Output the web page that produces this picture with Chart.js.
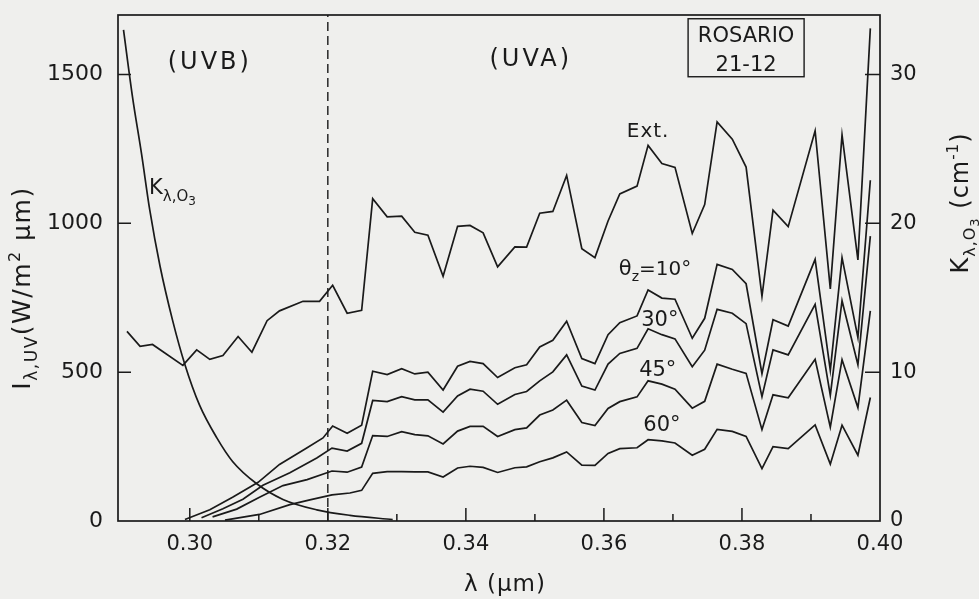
<!DOCTYPE html>
<html>
<head>
<meta charset="utf-8">
<script src="https://cdn.jsdelivr.net/npm/chart.js@4.4.1/dist/chart.umd.min.js"></script>
<style>
  html, body { margin: 0; padding: 0; background: #efefed; }
  #wrap { width: 979px; height: 599px; }
</style>
</head>
<body>
<div id="wrap"><canvas id="c" width="979" height="599"></canvas></div>
<script>
// ---------- DATA ----------
// wavelength in µm, irradiance in W/m² µm (left axis), K in cm^-1 (right axis)
const uvbLimit = 0.32;

const lambdaExtUVB = [0.2909,0.2928,0.2946,0.2990,0.3010,0.3029,0.3048,0.3070,0.3090,0.3112,0.3130,0.3164,0.3188,0.3207,0.3228,0.3249];
const extUVB       = [637,587,593,523,575,543,556,620,567,673,706,738,738,792,698,708];

const lambdaUVA = [0.3265,0.3286,0.3307,0.3326,0.3345,0.3367,0.3388,0.3406,0.3425,0.3446,0.3471,0.3488,0.3507,0.3526,0.3546,0.3568,0.3587,0.3606,0.3623,0.3648,0.3664,0.3684,0.3703,0.3728,0.3746,0.3764,0.3786,0.3806,0.3829,0.3845,0.3867,0.3906,0.3928,0.3945,0.3968,0.3986];
const extUVA = [1083,1022,1024,970,960,822,990,993,968,854,921,920,1034,1040,1161,915,885,1008,1099,1125,1262,1201,1188,966,1063,1341,1283,1189,755,1044,989,1311,780,1297,877,1655];

const lambdaT10UVB = [0.2993,0.3029,0.3062,0.3099,0.3130,0.3170,0.3193,0.3207,0.3228,0.3249];
const t10UVB       = [5,38,80,130,190,246,279,319,295,322];
const t10UVA = [503,492,512,494,500,440,520,536,529,482,515,525,585,607,671,546,529,626,666,689,776,749,745,614,681,862,845,797,495,676,655,879,506,885,616,1145];

const lambdaT30UVB = [0.3017,0.3048,0.3077,0.3106,0.3145,0.3184,0.3206,0.3228,0.3249];
const t30UVB       = [11,41,73,120,162,212,245,235,261];
const t30UVA = [405,401,418,407,407,366,420,443,436,392,425,435,471,501,558,453,440,527,563,580,646,626,612,518,574,711,698,663,418,575,558,728,422,740,525,957];

const lambdaT45UVB = [0.3033,0.3068,0.3101,0.3135,0.3170,0.3206,0.3228,0.3249];
const t45UVB       = [14,40,80,119,139,168,164,181];
const t45UVA = [287,284,300,290,286,259,302,318,318,284,307,313,356,373,406,331,321,378,401,417,471,460,443,379,402,527,510,496,307,424,414,543,315,542,381,706];

const lambdaT60UVB = [0.3051,0.3101,0.3145,0.3174,0.3206,0.3232,0.3249];
const t60UVB       = [3,22,55,71,88,94,103];
const t60UVA = [160,166,166,165,165,148,178,184,180,163,179,182,199,212,232,188,187,227,243,246,273,269,262,221,241,308,301,284,176,250,243,323,191,322,221,415];

const lambdaK = [0.2904,0.2917,0.2930,0.2942,0.2957,0.2975,0.2993,0.3014,0.3039,0.3062,0.3097,0.3135,0.3184,0.3232,0.3294];
const kO3     = [33.0,28.5,24.7,20.9,17.1,13.5,10.5,7.8,5.6,4.0,2.5,1.45,0.75,0.38,0.1];

const xTicksLabelled = [0.30,0.32,0.34,0.36,0.38,0.40];
const leftTicks = [0,500,1000,1500];
const rightTicks = [0,10,20,30];

// ---------- helpers ----------
const pts = (xs, ys) => xs.map((x, i) => ({ x: x, y: ys[i] }));
const INK = '#1a1a1a';
const FAM = '"DejaVu Sans", "Open Sans", sans-serif';

function lineDS(data, axis, extra) {
  return Object.assign({
    data: data, yAxisID: axis, showLine: true, pointRadius: 0,
    borderColor: INK, borderWidth: 1.7, tension: 0, fill: false
  }, extra || {});
}

const datasets = [
  lineDS(pts(lambdaExtUVB.concat(lambdaUVA), extUVB.concat(extUVA)), 'y'),
  lineDS(pts(lambdaT10UVB.concat(lambdaUVA), t10UVB.concat(t10UVA)), 'y'),
  lineDS(pts(lambdaT30UVB.concat(lambdaUVA), t30UVB.concat(t30UVA)), 'y'),
  lineDS(pts(lambdaT45UVB.concat(lambdaUVA), t45UVB.concat(t45UVA)), 'y'),
  lineDS(pts(lambdaT60UVB.concat(lambdaUVA), t60UVB.concat(t60UVA)), 'y'),
  lineDS(pts(lambdaK, kO3), 'y1', { cubicInterpolationMode: 'monotone', tension: 0.4 }),
  lineDS([{ x: uvbLimit, y: 0 }, { x: uvbLimit, y: 1700 }], 'y', { borderDash: [9, 5], borderWidth: 1.4 })
];

// annotations in data coordinates (left-axis units)
const annotations = [
  { parts: [{ t: '(UVB)', s: 24 }], x: 0.3029, y: 1548, ls: 3 },
  { parts: [{ t: '(UVA)', s: 24 }], x: 0.3494, y: 1557, ls: 3 },
  { parts: [{ t: 'Ext.', s: 20 }], x: 0.3664, y: 1314, ls: 1 },
  { parts: [{ t: 'θ', s: 21 }, { t: 'z', s: 14, dy: 6 }, { t: '=10°', s: 20 }], x: 0.3674, y: 851, ls: 0 },
  { parts: [{ t: '30°', s: 21 }], x: 0.3681, y: 680, ls: 0 },
  { parts: [{ t: '45°', s: 21 }], x: 0.3678, y: 512, ls: 0 },
  { parts: [{ t: '60°', s: 21 }], x: 0.3684, y: 327, ls: 0 },
  { parts: [{ t: 'K', s: 21 }, { t: 'λ,O', s: 15, dy: 7 }, { t: '3', s: 12, dy: 11 }], x: 0.2975, y: 1123, ls: 0 }
];
const boxLabel = { lines: ['ROSARIO', '21-12'], x: 0.3806, y: 1590 };

function richWidth(ctx, parts, ls) {
  let w = 0;
  ctx.letterSpacing = (ls || 0) + 'px';
  for (const p of parts) { ctx.font = p.s + 'px ' + FAM; w += ctx.measureText(p.t).width; }
  return w;
}
function drawRich(ctx, parts, x, yBase, align, ls) {
  const w = richWidth(ctx, parts, ls);
  let cx = align === 'center' ? x - w / 2 : (align === 'right' ? x - w : x);
  ctx.textAlign = 'left';
  ctx.textBaseline = 'alphabetic';
  ctx.letterSpacing = (ls || 0) + 'px';
  for (const p of parts) {
    ctx.font = p.s + 'px ' + FAM;
    ctx.fillText(p.t, cx, yBase + (p.dy || 0));
    cx += ctx.measureText(p.t).width;
  }
  ctx.letterSpacing = '0px';
}

const decor = {
  id: 'decor',
  beforeDraw(chart) {
    const ctx = chart.ctx;
    ctx.save();
    ctx.fillStyle = '#efefed';
    ctx.fillRect(0, 0, chart.width, chart.height);
    ctx.restore();
  },
  afterDraw(chart) {
    const ctx = chart.ctx;
    const a = chart.chartArea;
    const sx = chart.scales.x, sy = chart.scales.y, sy1 = chart.scales.y1;
    ctx.save();
    ctx.strokeStyle = INK;
    ctx.fillStyle = INK;
    ctx.lineWidth = 1.7;
    // frame
    ctx.strokeRect(a.left, a.top, a.right - a.left, a.bottom - a.top);
    // inward ticks
    ctx.lineWidth = 1.5;
    ctx.beginPath();
    sx.ticks.forEach(t => {
      const px = sx.getPixelForValue(t.value);
      if (px < a.left + 4 || px > a.right - 2) return;
      const major = Math.round(t.value * 100) % 2 === 0;
      ctx.moveTo(px, a.bottom); ctx.lineTo(px, a.bottom - (major ? 13 : 7));
    });
    leftTicks.forEach(v => {
      const py = sy.getPixelForValue(v);
      if (py > a.bottom - 2) return;
      ctx.moveTo(a.left, py); ctx.lineTo(a.left + 13, py);
    });
    rightTicks.forEach(v => {
      const py = sy1.getPixelForValue(v);
      if (py > a.bottom - 2) return;
      ctx.moveTo(a.right, py); ctx.lineTo(a.right - 15, py);
    });
    ctx.stroke();

    // annotations
    annotations.forEach(an => {
      const px = sx.getPixelForValue(an.x), py = sy.getPixelForValue(an.y);
      const base = py + 0.36 * an.parts[0].s;
      drawRich(ctx, an.parts, px, base, 'center', an.ls);
    });
    // ROSARIO box
    const bx = sx.getPixelForValue(boxLabel.x), by = sy.getPixelForValue(boxLabel.y);
    ctx.lineWidth = 1.4;
    ctx.strokeRect(bx - 58, by - 29, 116, 58);
    drawRich(ctx, [{ t: boxLabel.lines[0], s: 21 }], bx, by - 6, 'center', 0);
    drawRich(ctx, [{ t: boxLabel.lines[1], s: 21 }], bx, by + 23, 'center', 0);

    // x title
    drawRich(ctx, [{ t: 'λ (µm)', s: 23 }], (a.left + a.right) / 2 + 6, 591, 'center', 1);

    // left title (rotated)
    ctx.save();
    ctx.translate(30, 288);
    ctx.rotate(-Math.PI / 2);
    drawRich(ctx, [
      { t: 'I', s: 25 }, { t: 'λ,UV', s: 17, dy: 7 }, { t: '(W/m', s: 25 },
      { t: '2', s: 16, dy: -10 }, { t: ' µm)', s: 25 }
    ], 0, 0, 'center', 1.5);
    ctx.restore();

    // right title (rotated)
    ctx.save();
    ctx.translate(968, 203);
    ctx.rotate(-Math.PI / 2);
    drawRich(ctx, [
      { t: 'K', s: 24 }, { t: 'λ,O', s: 16, dy: 7 }, { t: '3', s: 13, dy: 11 },
      { t: ' (cm', s: 24 }, { t: '-1', s: 15, dy: -10 }, { t: ')', s: 24 }
    ], 0, 0, 'center', 1);
    ctx.restore();

    ctx.restore();
  }
};

const noPad = s => { s.paddingTop = 0; s.paddingBottom = 0; };

new Chart(document.getElementById('c'), {
  type: 'scatter',
  data: { datasets: datasets },
  plugins: [decor],
  options: {
    responsive: false,
    animation: false,
    devicePixelRatio: 1,
    layout: { padding: { top: 15, left: 0, right: 0, bottom: 0 } },
    plugins: { legend: { display: false }, tooltip: { enabled: false } },
    scales: {
      x: {
        type: 'linear', min: 0.2896, max: 0.40,
        grid: { display: false }, border: { display: false },
        afterFit: s => { s.height = 78; s.paddingLeft = 0; s.paddingRight = 0; },
        ticks: {
          stepSize: 0.01, includeBounds: false, autoSkip: false, maxRotation: 0,
          color: INK, padding: 3, font: { family: FAM, size: 21 },
          callback: v => {
            const r = Math.round(v * 100) / 100;
            return xTicksLabelled.some(t => Math.abs(t - r) < 1e-9) ? r.toFixed(2) : '';
          }
        }
      },
      y: {
        position: 'left', min: 0, max: 1700,
        grid: { display: false }, border: { display: false },
        afterBuildTicks: s => { s.ticks = leftTicks.map(v => ({ value: v })); },
        afterFit: s => { s.width = 118; noPad(s); },
        ticks: {
          autoSkip: false, color: INK, padding: 7,
          font: { family: FAM, size: 22 },
          callback: v => String(v)
        }
      },
      y1: {
        position: 'right', min: 0, max: 34,
        grid: { display: false }, border: { display: false },
        afterBuildTicks: s => { s.ticks = rightTicks.map(v => ({ value: v })); },
        afterFit: s => { s.width = 99; noPad(s); },
        ticks: {
          autoSkip: false, color: INK, padding: 2,
          font: { family: FAM, size: 21 },
          callback: v => String(v)
        }
      }
    }
  }
});
</script>
</body>
</html>
